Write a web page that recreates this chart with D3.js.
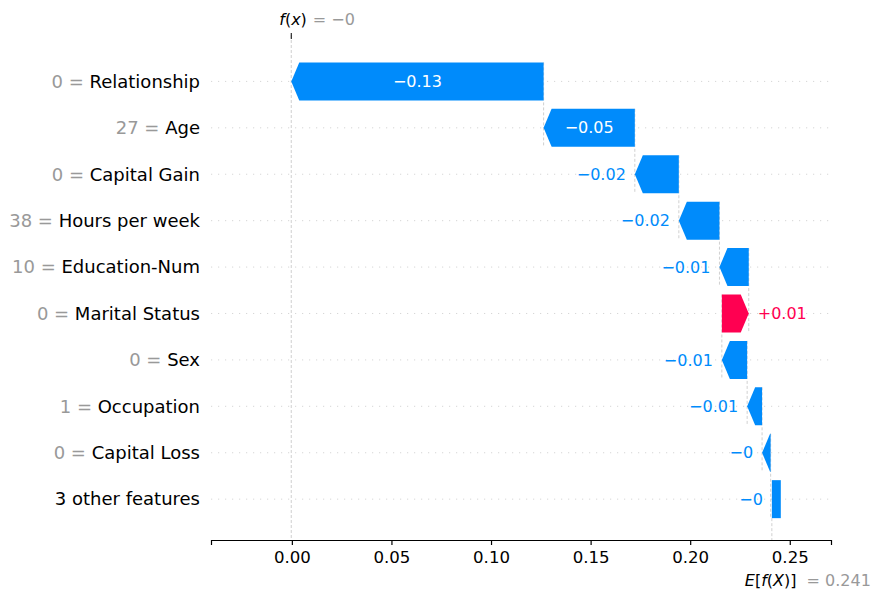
<!DOCTYPE html>
<html>
<head>
<meta charset="utf-8">
<script src="https://cdn.jsdelivr.net/npm/d3@7"></script>
<style>
  body { margin: 0; background: #fff; }
  text { font-family: "DejaVu Sans", sans-serif; }
</style>
</head>
<body>
<svg id="chart" width="880" height="600"></svg>
<script>
const featureValues = ["0", "27", "0", "38", "10", "0", "0", "1", "0", ""];
const featureNames = ["Relationship", "Age", "Capital Gain", "Hours per week", "Education-Num",
  "Marital Status", "Sex", "Occupation", "Capital Loss", "3 other features"];
const shapValues = [-0.1267, -0.0458, -0.0221, -0.0204, -0.0147, 0.0135, -0.0127, -0.0075, -0.0043, -0.0045];
const baseValue = 0.241;
const fxValue = -0.0003;
const xTicks = [0, 0.05, 0.1, 0.15, 0.2, 0.25];

const blue = "#008bfb";
const red = "#ff0051";
const plotLeft = 211, plotRight = 831, plotTop = 35, plotBottom = 540;
const barH = 38;
const headLen = 8;

const svg = d3.select("#chart");
const x = d3.scaleLinear().domain([-0.0406, 0.2707]).range([plotLeft, plotRight]);
const y = d3.scaleLinear().domain([-1, 9.88]).range([plotTop, plotBottom]);

const fmt = v => {
  let s = Math.abs(v).toFixed(2).replace(/0+$/, "").replace(/\.$/, "");
  if (s === "0" && v < 0) return "\u22120";
  return (v < 0 ? "\u2212" : "+") + s;
};

// rows: tip at loc (toward f(x)), tail at loc - value
let loc = fxValue;
const rows = shapValues.map((v, i) => {
  const r = { i, v, tip: loc, tail: loc - v };
  loc = loc - v;
  return r;
});
// "other features" row is drawn from the base value
const last = rows[rows.length - 1];
last.tip = baseValue;
last.tail = baseValue - last.v;
last.rect = true;

// dotted row grid
svg.append("g")
  .selectAll("line")
  .data(rows)
  .enter()
  .append("line")
  .attr("x1", plotLeft)
  .attr("x2", plotRight)
  .attr("y1", d => y(d.i))
  .attr("y2", d => y(d.i))
  .attr("stroke", "#cccccc")
  .attr("stroke-width", 0.8)
  .attr("stroke-dasharray", "1.2,5.8");

// f(x) line
svg.append("line")
  .attr("x1", x(fxValue)).attr("x2", x(fxValue))
  .attr("y1", plotTop).attr("y2", plotBottom)
  .attr("stroke", "#bbbbbb").attr("stroke-width", 0.7)
  .attr("stroke-dasharray", "3,2");
svg.append("line")
  .attr("x1", x(fxValue)).attr("x2", x(fxValue))
  .attr("y1", plotTop - 2).attr("y2", plotTop + 4)
  .attr("stroke", "#000").attr("stroke-width", 1);

// E[f(X)] line
svg.append("line")
  .attr("x1", x(baseValue)).attr("x2", x(baseValue))
  .attr("y1", y(9) + barH / 2).attr("y2", plotBottom)
  .attr("stroke", "#bbbbbb").attr("stroke-width", 0.7)
  .attr("stroke-dasharray", "3,2");

// connectors
svg.append("g")
  .selectAll("line")
  .data(rows.slice(0, -1))
  .enter()
  .append("line")
  .attr("x1", d => x(d.tail))
  .attr("x2", d => x(d.tail))
  .attr("y1", d => y(d.i) - barH / 2)
  .attr("y2", d => y(d.i + 1) + barH / 2)
  .attr("stroke", "#bbbbbb")
  .attr("stroke-width", 0.7)
  .attr("stroke-dasharray", "3,2");

// bars
const arrowPath = d => {
  const t = x(d.tip), e = x(d.tail), yc = y(d.i);
  const y0 = yc - barH / 2, y1 = yc + barH / 2;
  if (d.rect) {
    const a = Math.min(t, e), b = Math.max(t, e);
    return `M${a},${y0}L${b},${y0}L${b},${y1}L${a},${y1}Z`;
  }
  const h = Math.min(headLen, Math.abs(e - t));
  const s = d.v < 0 ? 1 : -1;
  return `M${t},${yc}L${t + s * h},${y0}L${e},${y0}L${e},${y1}L${t + s * h},${y1}Z`;
};

svg.append("g")
  .selectAll("path")
  .data(rows)
  .enter()
  .append("path")
  .attr("d", arrowPath)
  .attr("fill", d => (d.v < 0 ? blue : red));

// value labels
const labels = svg.append("g")
  .selectAll("text")
  .data(rows)
  .enter()
  .append("text")
  .attr("font-size", 16)
  .attr("dy", "0.35em")
  .attr("y", d => y(d.i))
  .text(d => fmt(d.v));

labels.each(function (d) {
  const w = this.getComputedTextLength();
  const barW = Math.abs(x(d.tail) - x(d.tip));
  const t = d3.select(this);
  if (w + 20 < barW) {
    t.attr("x", (x(d.tip) + x(d.tail)) / 2).attr("text-anchor", "middle").attr("fill", "#fff");
  } else if (d.v < 0) {
    t.attr("x", Math.min(x(d.tip), x(d.tail)) - 9).attr("text-anchor", "end").attr("fill", blue);
  } else {
    t.attr("x", Math.max(x(d.tip), x(d.tail)) + 9).attr("text-anchor", "start").attr("fill", red);
  }
});

// feature labels
const ylab = svg.append("g")
  .selectAll("text")
  .data(rows)
  .enter()
  .append("text")
  .attr("x", 200)
  .attr("y", d => y(d.i))
  .attr("dy", "0.35em")
  .attr("text-anchor", "end")
  .attr("font-size", 18);
ylab.append("tspan")
  .attr("fill", "#999999")
  .text(d => (featureValues[d.i] === "" ? "" : featureValues[d.i] + " = "));
ylab.append("tspan")
  .attr("fill", "#000")
  .text(d => featureNames[d.i]);

// x axis
const axis = svg.append("g")
  .attr("transform", `translate(0,${plotBottom})`)
  .call(d3.axisBottom(x).tickValues(xTicks).tickFormat(d3.format(".2f")).tickSizeOuter(0).tickSize(5).tickPadding(6));
axis.select(".domain").attr("stroke", "#000").attr("stroke-width", 1.2);
axis.selectAll(".tick line").attr("stroke", "#000").attr("stroke-width", 1.2);
axis.selectAll(".tick text")
  .attr("font-size", 16.6)
  .attr("font-family", "DejaVu Sans, sans-serif")
  .attr("fill", "#000");

// f(x) label
const fxText = svg.append("text")
  .attr("x", x(fxValue) - 12)
  .attr("y", 25)
  .attr("font-size", 16);
fxText.append("tspan").attr("font-style", "italic").text("f");
fxText.append("tspan").text("(");
fxText.append("tspan").attr("font-style", "italic").text("x");
fxText.append("tspan").text(")");
fxText.append("tspan").attr("fill", "#999999").attr("dx", 6).text("= " + fmt(fxValue));

// E[f(X)] label
const eText = svg.append("text")
  .attr("x", x(baseValue) - 27)
  .attr("y", 586)
  .attr("font-size", 16);
eText.append("tspan").attr("font-style", "italic").text("E");
eText.append("tspan").text("[");
eText.append("tspan").attr("font-style", "italic").text("f");
eText.append("tspan").text("(");
eText.append("tspan").attr("font-style", "italic").text("X");
eText.append("tspan").text(")]");
eText.append("tspan").attr("fill", "#999999").attr("dx", 10).text("= " + baseValue.toFixed(3));
</script>
</body>
</html>
